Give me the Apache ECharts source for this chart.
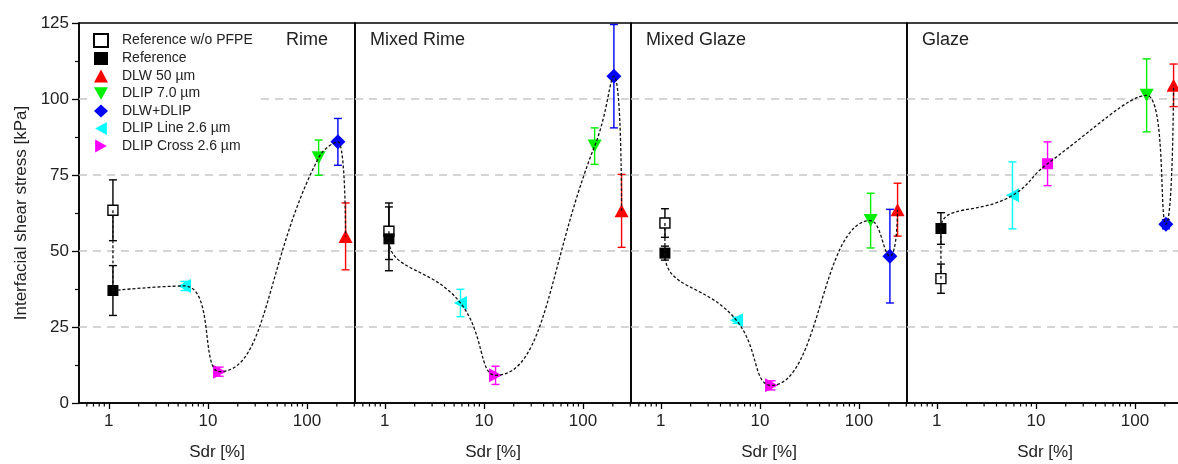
<!DOCTYPE html>
<html>
<head>
<meta charset="utf-8">
<script src="https://cdn.jsdelivr.net/npm/echarts@6/dist/echarts.min.js"></script>
<style>
html,body{margin:0;padding:0;background:#fff;overflow:hidden;}
#chart{width:1178px;height:464px;}
</style>
</head>
<body>
<div id="chart"></div>
<script>
// ---- data ----
const treatments = ['Reference w/o PFPE', 'Reference', 'DLW 50 µm', 'DLIP 7.0 µm', 'DLW+DLIP', 'DLIP Line 2.6 µm', 'DLIP Cross 2.6 µm'];
const sdr = [1.1, 1.1, 245, 131, 205, 5.8, 13.1];
const panelNames = ['Rime', 'Mixed Rime', 'Mixed Glaze', 'Glaze'];
const rimeStress = [63.4, 37.0, 54.8, 80.7, 85.9, 38.5, 10.3];
const rimeErr = [10.0, 8.2, 11.0, 5.8, 7.7, 1.5, 1.5];
const mixedRimeStress = [56.5, 54.0, 63.2, 84.5, 107.5, 32.9, 9.1];
const mixedRimeErr = [9.3, 10.5, 12.0, 6.0, 17.0, 4.5, 3.0];
const mixedGlazeStress = [59.2, 49.3, 63.6, 60.0, 48.3, 27.2, 5.8];
const mixedGlazeErr = [4.7, 2.3, 8.7, 9.0, 15.4, 1.0, 1.5];
const glazeStress = [40.9, 57.4, 104.5, 101.2, 58.8, 68.3, 78.7];
const glazeErr = [4.8, 5.2, 7.0, 12.0, 1.5, 11.0, 7.2];
const curveOrder = [0, 1, 5, 6, 3, 4, 2];
const xMajorTicks = [1, 10, 100];
const xMinorTicks = [0.6, 0.7, 0.8, 0.9, 2, 3, 4, 5, 6, 7, 8, 9, 20, 30, 40, 50, 60, 70, 80, 90, 200, 300];
const yGridLines = [25, 50, 75, 100];

// ---- styles ----
const colors = ['#000000', '#000000', '#ff0000', '#00ee00', '#0000ff', '#00ffff', '#ff00ff'];
const symbols = ['rect', 'rect', 'triangle',
  'path://M0,0 L10,0 L5,9 Z',
  'diamond',
  'path://M9,0 L9,10 L0,5 Z',
  'path://M0,0 L0,10 L9,5 Z'];
const sizes = [10, 11, [14, 13], [14, 13], 15, [13, 14], [13, 14]];
const FONT = '"Liberation Sans", Arial, sans-serif';
const panelStress = [rimeStress, mixedRimeStress, mixedGlazeStress, glazeStress];
const panelErr = [rimeErr, mixedRimeErr, mixedGlazeErr, glazeErr];
// glaze cross marker drawn as square in original
const overrideSymbol = {3: {6: 'rect'}};

const lefts = [79, 355, 631, 907];
const W = 276, TOP = 23, H = 380;

const grids = [], xAxes = [], yAxes = [], series = [], titles = [];
lefts.forEach((l, p) => {
  grids.push({left: l, top: TOP, width: W, height: H, show: true, borderColor: '#000', borderWidth: 1.6,
    backgroundColor: 'transparent', containLabel: false, outerBoundsMode: 'none'});
  xAxes.push({
    type: 'log', logBase: 10, gridIndex: p, min: 0.5, max: 305,
    name: 'Sdr [%]', nameLocation: 'middle', nameGap: 41,
    nameTextStyle: {fontFamily: FONT, fontSize: 17, color: '#222'},
    axisLine: {show: true, lineStyle: {color: '#000', width: 1.5}},
    axisTick: {show: true, inside: false, length: 6, lineStyle: {color: '#000', width: 1.3}, customValues: xMajorTicks},
    axisLabel: {show: true, customValues: xMajorTicks, formatter: v => String(v), fontFamily: FONT, fontSize: 17, color: '#222', margin: 10},
    splitLine: {show: false}, minorTick: {show: false}
  });
  yAxes.push({
    type: 'value', gridIndex: p, min: 0, max: 125, interval: 25,
    name: p === 0 ? 'Interfacial shear stress [kPa]' : '', nameLocation: 'middle', nameGap: 49,
    nameTextStyle: {fontFamily: FONT, fontSize: 17, color: '#222'},
    axisLine: {show: p === 0, lineStyle: {color: '#000', width: 1.5}},
    axisTick: {show: p === 0, inside: false, length: 7, lineStyle: {color: '#000', width: 1.3}},
    minorTick: {show: p === 0, splitNumber: 2, length: 4, lineStyle: {color: '#000', width: 1.2}},
    axisLabel: {show: p === 0, fontFamily: FONT, fontSize: 17, color: '#222', margin: 10},
    splitLine: {show: false}
  });
  titles.push({text: panelNames[p], left: p === 0 ? 286 : l + 15, top: 31, padding: 0,
    textStyle: {fontFamily: FONT, fontSize: 18, fontWeight: 'normal', color: '#222'}});

  const ys = panelStress[p], es = panelErr[p];
  // minor x ticks
  series.push({
    type: 'custom', xAxisIndex: p, yAxisIndex: p, silent: true, clip: false, z: 5,
    data: xMinorTicks.map(v => [v, 0]),
    encode: {x: 0, y: 1},
    renderItem: (params, api) => {
      const pt = api.coord([api.value(0), 0]);
      return {type: 'line', shape: {x1: pt[0], y1: pt[1], x2: pt[0], y2: pt[1] + 3.5}, style: {stroke: '#000', lineWidth: 1.2}};
    }
  });
  // error bars (+ dashed horizontal reference lines)
  series.push({
    type: 'custom', xAxisIndex: p, yAxisIndex: p, silent: true, clip: false, z: 3,
    data: treatments.map((t, i) => [sdr[i], ys[i], es[i], i]),
    encode: {x: 0, y: 1},
    markLine: {
      silent: true, symbol: 'none', animation: false, z: 1,
      label: {show: false},
      lineStyle: {color: '#c8c8c8', width: 1.5, type: [8, 6]},
      emphasis: {disabled: true},
      data: yGridLines.map(v => ({yAxis: v}))
    },
    renderItem: (params, api) => {
      const x = api.value(0), y = api.value(1), e = api.value(2), ci = api.value(3);
      const a = api.coord([x, y + e]), b = api.coord([x, y - e]);
      const st = {stroke: colors[ci], lineWidth: 1.4};
      const cw = 4;
      return {type: 'group', children: [
        {type: 'line', shape: {x1: a[0], y1: a[1], x2: b[0], y2: b[1]}, style: st},
        {type: 'line', shape: {x1: a[0] - cw, y1: a[1], x2: a[0] + cw, y2: a[1]}, style: st},
        {type: 'line', shape: {x1: b[0] - cw, y1: b[1], x2: b[0] + cw, y2: b[1]}, style: st}
      ]};
    }
  });
  // markers
  treatments.forEach((t, i) => {
    const sym = (overrideSymbol[p] && overrideSymbol[p][i]) || symbols[i];
    const isOverride = sym !== symbols[i];
    series.push({
      type: 'scatter', name: t, xAxisIndex: p, yAxisIndex: p, z: 4,
      symbol: symbols[i], symbolSize: sizes[i],
      itemStyle: {color: i === 0 ? '#fff' : colors[i], borderColor: colors[i], borderWidth: i === 0 ? 1.4 : 0, opacity: 1},
      data: [{value: [sdr[i], ys[i]], symbol: sym, symbolSize: isOverride ? 11 : sizes[i]}]
    });
  });
  // smooth dashed curve
  series.push({
    type: 'line', xAxisIndex: p, yAxisIndex: p, smooth: 0.5, symbol: 'none', z: 6, silent: true,
    lineStyle: {color: '#111', width: 1.3, type: [3, 2]},
    data: curveOrder.map(i => [sdr[i], ys[i]])
  });
});

const chart = echarts.init(document.getElementById('chart'), null, {renderer: 'canvas'});
chart.setOption({
  animation: false,
  backgroundColor: '#fff',
  title: titles,
  legend: {
    data: treatments,
    orient: 'vertical', left: 91, top: 31, itemWidth: 14, itemHeight: 13, itemGap: 3.5,
    backgroundColor: '#fff', padding: [2, 3, 2, 2],
    textStyle: {fontFamily: FONT, fontSize: 14, color: '#222', padding: [0, 0, 0, 9]},
    selectedMode: false, z: 10
  },
  grid: grids, xAxis: xAxes, yAxis: yAxes, series: series
});
</script>
</body>
</html>
